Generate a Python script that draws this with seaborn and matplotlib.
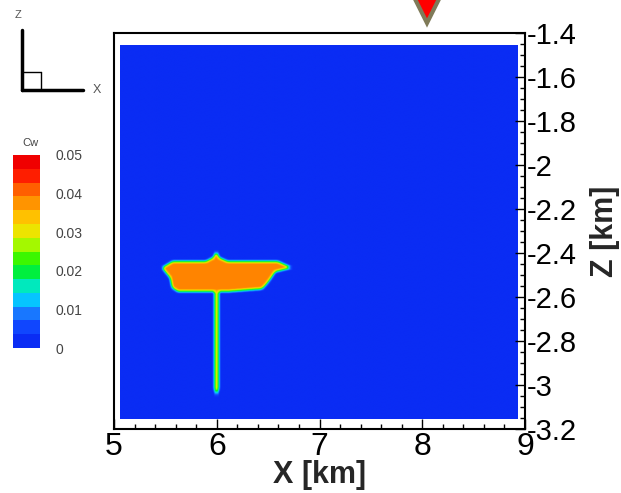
import numpy as np
import matplotlib
matplotlib.use('Agg')
import matplotlib.pyplot as plt
from matplotlib.path import Path
from matplotlib.lines import Line2D
import seaborn as sns

# model window [km]
x_range = [5.058, 8.93]
z_range = [-3.155, -1.455]

# plume outline (x, z) in km
slab_x = [5.467, 5.564, 5.886, 5.963, 5.993, 6.022, 6.109, 6.596, 6.723,
          6.567, 6.499, 6.440, 6.080, 5.623, 5.564, 5.545, 5.496]
slab_z = [-2.468, -2.441, -2.441, -2.423, -2.395, -2.423, -2.441, -2.441, -2.468,
          -2.486, -2.532, -2.564, -2.577, -2.577, -2.559, -2.514, -2.486]
stem_x = [5.975, 6.018, 6.014, 5.995, 5.977]
stem_z = [-2.577, -2.577, -3.020, -3.050, -3.020]
cw_slab = 0.0395
cw_stem = 0.034

cbar_ticks = [0, 0.01, 0.02, 0.03, 0.04, 0.05]
cbar_labels = ['0', '0.01', '0.02', '0.03', '0.04', '0.05']
x_ticks = [5, 6, 7, 8, 9]
z_ticks = [-3.2, -3, -2.8, -2.6, -2.4, -2.2, -2, -1.8, -1.6, -1.4]
well_x = 8.05

sns.set_style("white")
plt.rcParams['font.family'] = ['Liberation Sans', 'DejaVu Sans']

cmap = sns.blend_palette(['#0a2cf4', '#1048ff', '#1a80ff', '#00d8ff', '#00f0a0',
                          '#00ee00', '#70ff00', '#e0f000', '#ffd000', '#ffa000',
                          '#ff6a00', '#ff2000', '#f00000'], as_cmap=True)

# gridded concentration field
xs = np.arange(x_range[0], x_range[1], 0.004)
zs = np.arange(z_range[0], z_range[1], 0.002)
X, Z = np.meshgrid(xs, zs)
pts = np.column_stack([X.ravel(), Z.ravel()])
cw = np.zeros(X.size)
cw[Path(np.column_stack([slab_x, slab_z])).contains_points(pts)] = cw_slab
cw[Path(np.column_stack([stem_x, stem_z])).contains_points(pts)] = cw_stem
cw = cw.reshape(X.shape)

def smooth(a, k=3):
    out = np.zeros_like(a)
    for i in range(-k, k + 1):
        out += np.roll(a, i, axis=0)
    a = out / (2 * k + 1)
    out = np.zeros_like(a)
    for i in range(-k, k + 1):
        out += np.roll(a, i, axis=1)
    return out / (2 * k + 1)

cw = smooth(cw, 5)

fig = plt.figure(figsize=(6.21, 4.93), dpi=100)
ax = fig.add_axes([0.1836, 0.1298, 0.6618, 0.8032])
ax.imshow(cw, origin='lower', extent=[x_range[0], x_range[1], z_range[0], z_range[1]],
          aspect='auto', cmap=cmap, vmin=0, vmax=0.05, interpolation='bilinear')
ax.set_xlim(5, 9)
ax.set_ylim(-3.2, -1.4)
ax.set_xticks(x_ticks)
ax.set_xticks(np.arange(5, 9.01, 0.2), minor=True)
ax.set_yticks(z_ticks)
ax.set_yticklabels([('%g' % t) for t in z_ticks])
ax.set_yticks(np.arange(-3.2, -1.39, 0.05), minor=True)
ax.yaxis.tick_right()
ax.tick_params(which='both', direction='in', bottom=True, right=True, top=False, left=False,
               colors='black', width=1)
ax.tick_params(which='major', length=7)
ax.tick_params(which='minor', length=3.5)
ax.tick_params(axis='x', labelsize=23, pad=2)
ax.tick_params(axis='y', labelsize=21, pad=1)
for s in ax.spines.values():
    s.set_color('black')
    s.set_linewidth(1.5)

ax.set_xlabel('X [km]', fontsize=22, fontweight='bold', va='center')
ax.xaxis.set_label_coords(0.5, -0.116)
ax.yaxis.set_label_position('right')
ax.set_ylabel('Z [km]', fontsize=22, fontweight='bold', rotation=90, va='center')
ax.yaxis.set_label_coords(1.195, 0.5)

# well marker
ax.plot([well_x], [-1.285], marker='v', ms=22, mfc='red', mec='#7f7a58', mew=3,
        clip_on=False, zorder=5)

# colorbar
cax = fig.add_axes([13 / 621, 1 - 348 / 493, 27 / 621, 193 / 493])
sm = matplotlib.cm.ScalarMappable(norm=matplotlib.colors.Normalize(0, 0.05),
                                  cmap=cmap.resampled(14))
cb = fig.colorbar(sm, cax=cax, ticks=cbar_ticks)
cb.outline.set_visible(False)
cb.ax.set_yticklabels(cbar_labels)
cb.ax.tick_params(length=0, labelsize=10, labelcolor='#444444', pad=11)
fig.text(30 / 621, 1 - 143 / 493, 'Cw', fontsize=8, color='#444444', ha='center', va='center')

# axis triad
def px(x, y):
    return x / 621, 1 - y / 493

for (a, b), lw in [(((22, 30), (22, 90)), 2.5), (((22, 90), (83, 90)), 2.5),
                   (((22, 72), (41, 72)), 1), (((41, 72), (41, 90)), 1)]:
    (x0, y0), (x1, y1) = px(*a), px(*b)
    fig.add_artist(Line2D([x0, x1], [y0, y1], color='black', lw=lw, transform=fig.transFigure))
fig.text(*px(18, 15), 'Z', fontsize=8, color='#555555', ha='center', va='center')
fig.text(*px(97, 90), 'X', fontsize=9, color='#555555', ha='center', va='center')

fig.savefig('out.png', dpi=100)
